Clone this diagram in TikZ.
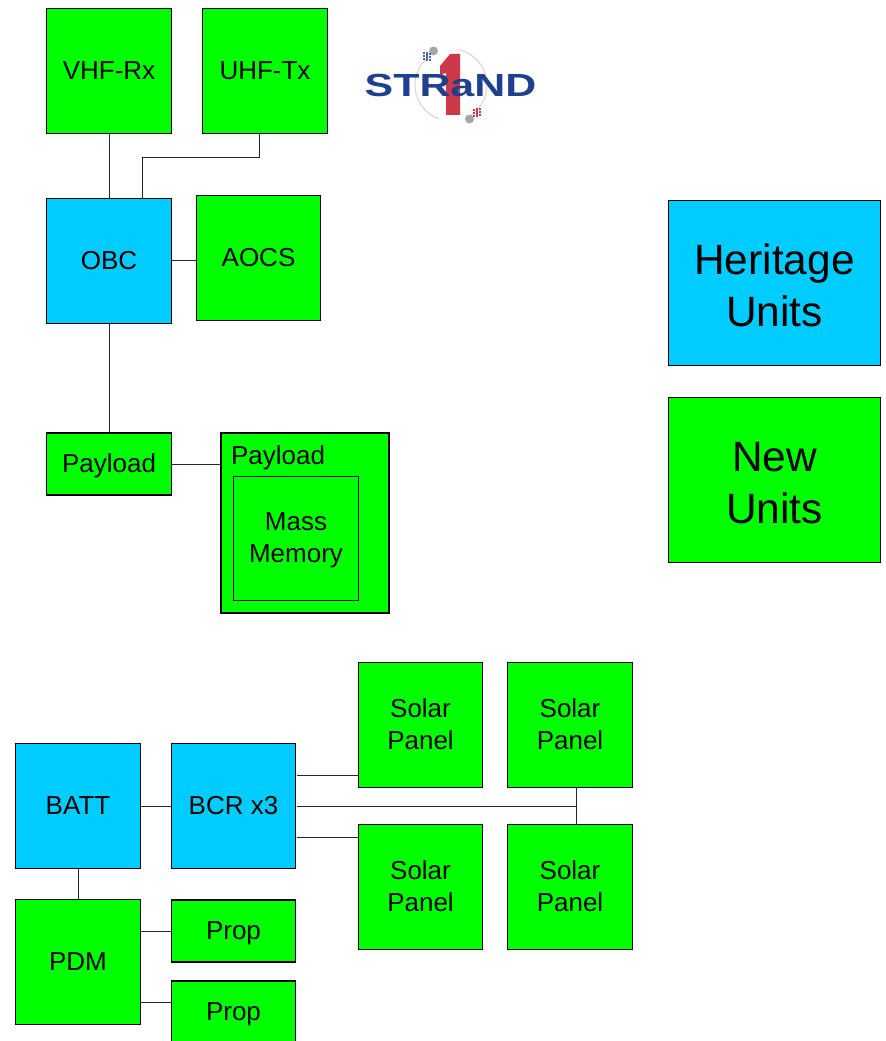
\documentclass[tikz,border=0pt]{standalone}
\usepackage{fontspec}
\setmainfont{Liberation Sans}
\usepackage{tikz}
\usetikzlibrary{positioning}
\definecolor{newgreen}{HTML}{00FF00}
\definecolor{oldblue}{HTML}{00CCFF}
\definecolor{logoblue}{HTML}{1F3F8F}
\definecolor{logored}{HTML}{CC3A4A}
\tikzset{
  unit/.style={draw=black,line width=0.8pt,align=center,inner sep=0pt,outer sep=0pt,
    font=\fontsize{19.5}{24}\selectfont},
  newunit/.style={unit,fill=newgreen},
  oldunit/.style={unit,fill=oldblue},
  sq/.style={minimum width=93.5pt,minimum height=93.5pt},
  flat/.style={minimum width=93.5pt,minimum height=46.5pt,text depth=1pt},
  panel/.style={sq,text depth=1.5pt},
  legend/.style={minimum width=159.5pt,minimum height=124pt,text height=65pt,text depth=0pt,font=\fontsize{31.8}{39}\selectfont},
  link/.style={draw=black!85,line width=0.7pt}
}
\begin{document}
\begin{tikzpicture}[x=0.75pt,y=-0.75pt]
        \useasboundingbox (0,0) rectangle (885,1041);
        % top chain
        \node[newunit,sq](vhf) at (109,71) {VHF-Rx};
        \node[newunit,sq](uhf) at (265,71) {UHF-Tx};
        \node[oldunit,sq](obc) at (109,261) {OBC};
        \node[newunit,sq](aocs) at (258.5,258) {AOCS};
        \node[newunit,flat](payload) at (109,464) {Payload};
        \node[newunit,minimum width=126pt,minimum height=135pt](store) at (305,523) {};
        \node[font=\fontsize{19.5}{24}\selectfont,text depth=1pt](storelabel) at (278,456) {Payload};
        \node[newunit,sq,text depth=1pt](memory) at (296,538.5) {Mass\\Memory};
        % legend
        \node[oldunit,legend](heritage) at (774.5,283) {Heritage\\Units};
        \node[newunit,legend](newunits) at (774.5,480) {New\\Units};
        % power chain
        \node[oldunit,sq](batt) at (78,806) {BATT};
        \node[oldunit,sq](bcr) at (233.5,806) {BCR x3};
        \node[newunit,panel](solar_a) at (420.5,725) {Solar\\Panel};
        \node[newunit,panel](solar_b) at (570,725) {Solar\\Panel};
        \node[newunit,panel](solar_c) at (420.5,887) {Solar\\Panel};
        \node[newunit,panel](solar_d) at (570,887) {Solar\\Panel};
        \node[newunit,sq](pdm) at (78,962) {PDM};
        \node[newunit,flat](prop_a) at (233.5,931) {Prop};
        \node[newunit,flat](prop_b) at (233.5,1012) {Prop};
        % free ends of the offset links
        \coordinate (obc_in) at (142,199);
        \coordinate (uhf_out) at (259,133);
        \coordinate (uhf_turn) at (142,157);
        \coordinate (bcr_a) at (296.5,775);
        \coordinate (bcr_c) at (296.5,837);
        \coordinate (bcr_d) at (296.5,806);
        \coordinate (bus_top) at (576,787);
        \coordinate (bus_end) at (576,825);
        \coordinate (pdm_a) at (140.5,931);
        \coordinate (pdm_b) at (140.5,1002);
        \coordinate (store_in) at (221,464);
        \coordinate (aocs_in) at (196,260);
        \path[link] (vhf) -- (obc)
                    (uhf_out) |- (uhf_turn) -- (obc_in)
                    (obc.east |- aocs_in) -- (aocs_in)
                    (obc) -- (payload)
                    (payload) -- (store_in)
                    (batt) -- (bcr)
                    (batt) -- (pdm)
                    (bcr_a) -- (solar_a.west |- bcr_a)
                    (bcr_c) -- (solar_c.west |- bcr_c)
                    (bcr_d) -- (bus_top |- bcr_d)
                    (bus_top) -- (bus_end)
                    (pdm_a) -- (prop_a.west |- pdm_a)
                    (pdm_b) -- (prop_b.west |- pdm_b);
        % logo
        \draw[black!18,line width=0.7pt] (451,85) ++(-80:36) arc (-80:60:36);
        \draw[black!18,line width=0.7pt] (451,85) ++(-135:36) arc (-135:-250:36);
        \fill[logored] (450,54) -- (460,54) -- (460,115) -- (446,115) -- (446,73) -- (440,75) -- (440,66) -- cycle;
        \node[font=\bfseries\fontsize{24}{24}\selectfont,text=logoblue,xscale=1.34,inner sep=0pt](logotext) at (450.5,85) {STRaND};
        \fill[black!35] (433.5,51) circle (4.5);
        \fill[black!35] (469.5,119) circle (4.5);
        \foreach \i in {0,1,2}
            \foreach \j in {0,1,2}{
                \fill[logoblue!80] (423+3*\i,52+3*\j+\i*0.5) rectangle +(2.4,2.4);
                \fill[logored] (472.5+3*\i,109+3*\j-\i*0.5) rectangle +(2.4,2.4);
            }
\end{tikzpicture}
\end{document}
